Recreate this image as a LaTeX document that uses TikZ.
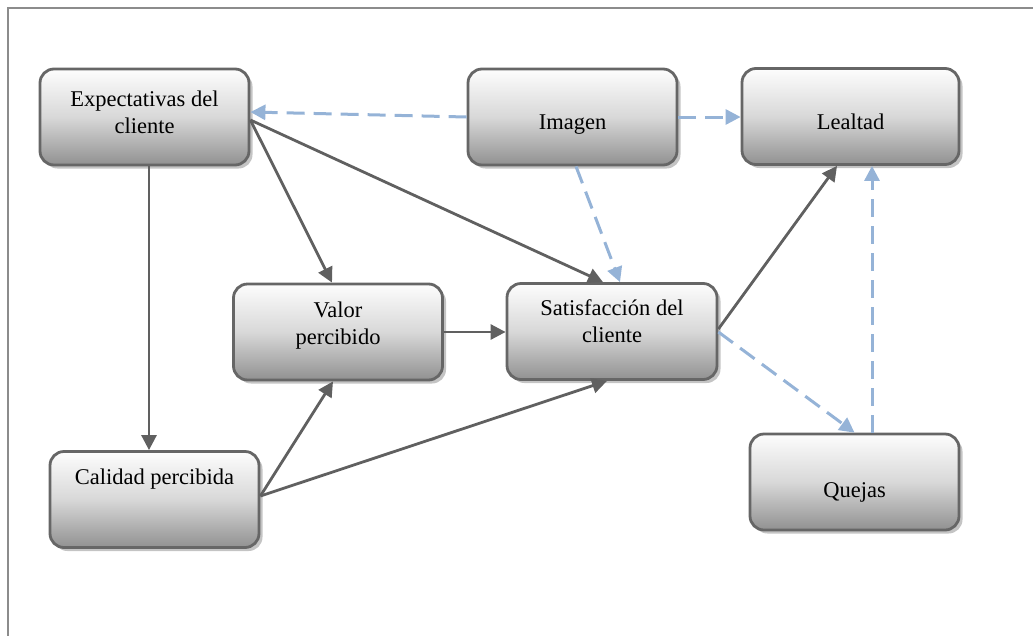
\documentclass[tikz,border=0pt]{standalone}
\usepackage{fontspec}
\setmainfont{Liberation Serif}
\usetikzlibrary{arrows.meta,calc,shadows}

\definecolor{boxline}{HTML}{666666}
\definecolor{boxtop}{HTML}{FDFDFD}
\definecolor{boxmid}{HTML}{D8D8D8}
\definecolor{boxbot}{HTML}{919191}
\definecolor{boxshadow}{HTML}{C4C4C4}
\definecolor{solidarrow}{HTML}{606060}
\definecolor{softblue}{HTML}{95B3D7}
\definecolor{framegray}{HTML}{8C8C8C}

\begin{document}
\begin{tikzpicture}[x=1pt, y=-1pt,
  box/.style={rounded corners=14pt, draw=boxline, line width=2.8pt,
    top color=boxtop, bottom color=boxbot, middle color=boxmid,
    minimum width=209pt, minimum height=96pt, inner sep=0pt,
    general shadow={fill=boxshadow, shadow xshift=3.5pt, shadow yshift=-3.5pt}},
  txt/.style={font=\fontsize{22.5}{27}\selectfont, align=center, inner sep=0pt, anchor=base},
  link/.style={draw=solidarrow, line width=2.8pt,
    -{Triangle[length=15pt, width=15pt]}},
  hint/.style={draw=softblue, line width=3pt, dash pattern=on 18pt off 9pt,
    -{Triangle[length=15pt, width=15pt]}}]

\useasboundingbox (0,0) rectangle (1033,635);

% outer frame (top and left edges)
\draw[framegray, line width=1.3pt] (8,640) -- (8,8) -- (1040,8);

% boxes
\node[box] (exp) at (144.5,117) {};
\node[box] (ima) at (572.5,117) {};
\node[box, minimum width=217pt] (lea) at (850.5,116.5) {};
\node[box] (val) at (338,332) {};
\node[box, minimum width=210pt] (sat) at (612,331.5) {};
\node[box] (cal) at (154.5,499.5) {};
\node[box] (que) at (854.5,482) {};

% box texts (base anchor sits on the last line)
\node[txt] (exp-t) at (144.5,133) {Expectativas del\\cliente};
\node[txt] (ima-t) at (572.5,129) {Imagen};
\node[txt] (lea-t) at (850.5,129) {Lealtad};
\node[txt] (val-t) at (338,344) {Valor\\percibido};
\node[txt] (sat-t) at (612,342) {Satisfacción del\\cliente};
\node[txt] (cal-t) at (154.5,484) {Calidad percibida};
\node[txt] (que-t) at (854.5,497) {Quejas};

% solid links
\draw[link] ($(exp.south)+(4.5,0)$) -- ($(cal.north)+(-5.5,0)$);
\draw[link] ($(exp.east)+(0,3)$) -- ($(val.north)+(-6,0)$);
\draw[link] ($(exp.east)+(0,3)$) -- ($(sat.north)+(-9,0)$);
\draw[link] (val.east) -- (val.east -| sat.west);
\draw[link] ($(cal.east)+(0,-3.5)$) -- ($(val.south)+(-5,0)$);
\draw[link] ($(cal.east)+(0,-3.5)$) -- ($(sat.south)+(-5,0)$);
\draw[link] ($(sat.east)+(0,-2.5)$) -- ($(lea.south)+(-13.5,0)$);

% dashed links
\draw[hint] (ima.west) -- ($(exp.east)+(0,-5)$);
\draw[hint] (ima.east) -- (ima.east -| lea.west);
\draw[hint] ($(ima.south)+(3.5,0)$) -- ($(sat.north)+(8,0)$);
\draw[hint] ($(sat.east)+(0,0.5)$) -- (que.north);
\draw[hint] ($(que.north)+(17.5,0)$) -- ($(lea.south)+(21.5,0)$);
\end{tikzpicture}
\end{document}
